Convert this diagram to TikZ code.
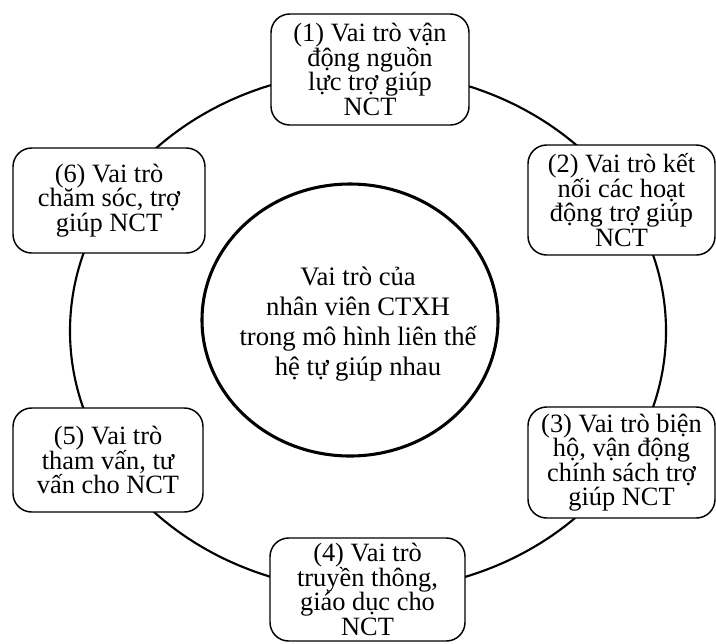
\documentclass[tikz,border=0pt]{standalone}
\usepackage{fontspec}
\setmainfont{Liberation Serif}
\usepackage{tikz}
\usetikzlibrary{%
  shapes.geometric,% wg. ellipse
  positioning%
}

\begin{document}
\begin{tikzpicture}
[x=0.75pt, y=-0.75pt, line width=1.1pt,
role/.style={rectangle, rounded corners=14pt, draw, fill=white, align=center, inner sep=0pt, font={\fontsize{19.8}{18.4}\selectfont\lineskiplimit=-30pt}},
cycle/.style={ellipse, draw, line width=1.6pt, inner sep=0pt},
core/.style={ellipse, draw, line width=2.3pt, fill=white, inner sep=0pt},
coretext/.style={align=center, inner sep=0pt, font={\fontsize{20}{22.5}\selectfont\lineskiplimit=-30pt}}
]

\useasboundingbox (0,0) rectangle (716,643);

% ring behind the six roles
\node[cycle, minimum width=447pt, minimum height=390pt] (ring) at (368,331) {};

\node[core, minimum width=222pt, minimum height=204pt] (centre) at (350,320) {};
\node[coretext] (centretext) at (358,324)
  {Vai trò của\\nhân viên CTXH\\trong mô hình liên thế\\hệ tự giúp nhau};

\node[role, minimum width=148.5pt, minimum height=83.25pt] (r1) at (370,69.5)
  {(1) Vai trò vận\\động nguồn\\lực trợ giúp\\NCT};
\node[role, minimum width=140.25pt, minimum height=82.5pt] (r2) at (621.5,200)
  {(2) Vai trò kết\\nối các hoạt\\động trợ giúp\\NCT};
\node[role, minimum width=140.25pt, minimum height=83.25pt] (r3) at (621.5,462.5)
  {(3) Vai trò biện\\hộ, vận động\\chính sách trợ\\giúp NCT};
\node[role, minimum width=146.25pt, minimum height=77.25pt] (r4) at (367.5,589.5)
  {(4) Vai trò\\truyền thông,\\giáo dục cho\\NCT};
\node[role, minimum width=142.5pt, minimum height=78pt] (r5) at (108,460)
  {(5) Vai trò\\tham vấn, tư\\vấn cho NCT};
\node[role, minimum width=144pt, minimum height=78.75pt] (r6) at (109,200.5)
  {(6) Vai trò\\chăm sóc, trợ\\giúp NCT};
\end{tikzpicture}
\end{document}
